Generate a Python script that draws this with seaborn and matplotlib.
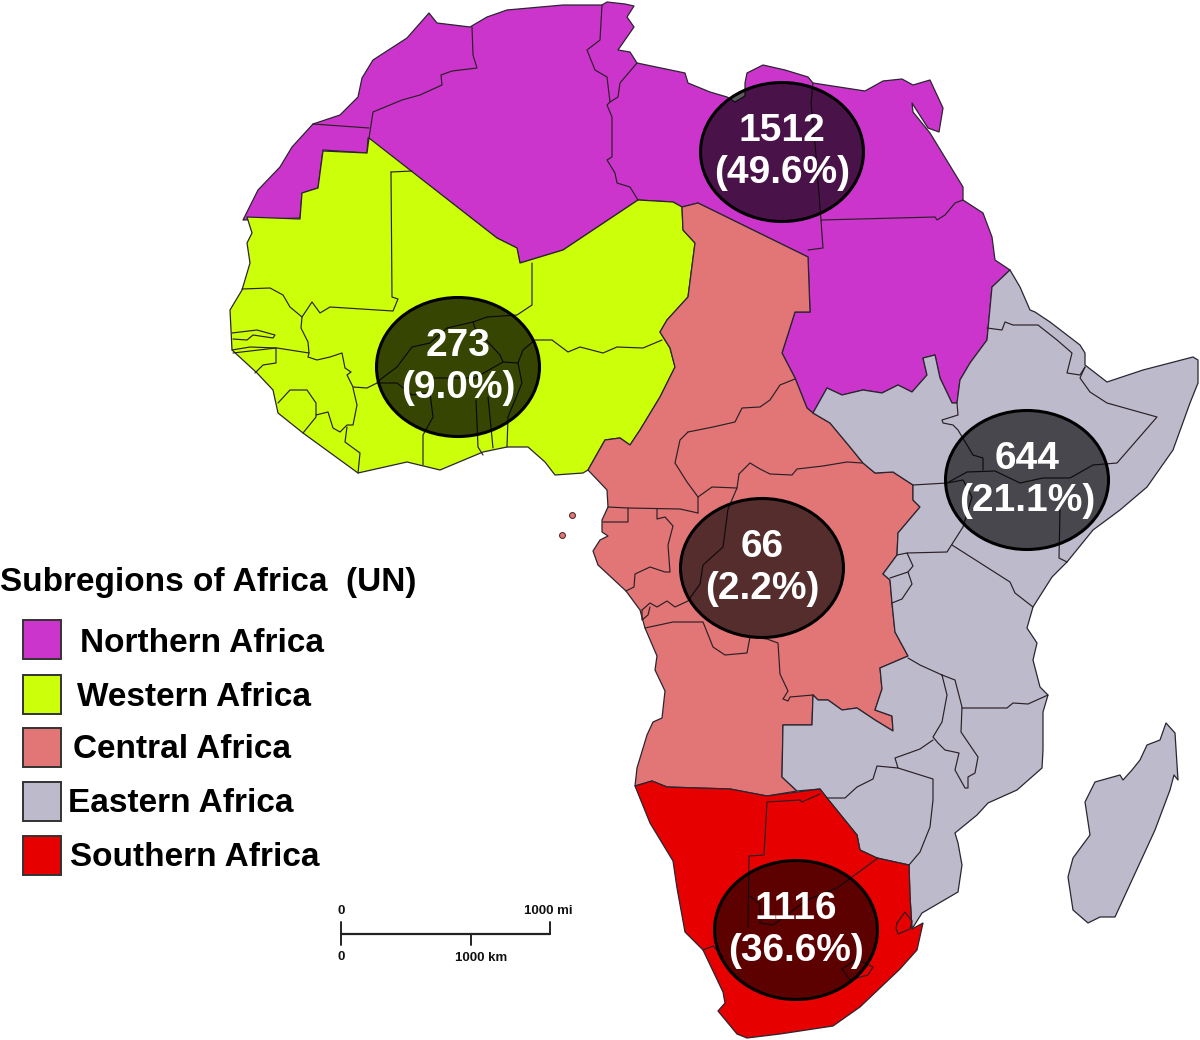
import matplotlib
matplotlib.use("Agg")
import matplotlib.pyplot as plt
import seaborn as sns
from matplotlib.patches import Ellipse, Rectangle

# outlines, in image pixels
northern = [(243,220),(258,190),(280,167),(292,147),(313,124),(340,115),(358,97),(362,78),(373,60),(407,38),(429,13),(437,23),(470,27),(487,17),(507,10),(563,5),(602,5),(607,2),(625,4),(634,6),(627,17),(634,27),(618,50),(630,52),(637,63),(685,73),(688,83),(710,92),(727,97),(735,102),(745,96),(745,83),(747,73),(763,65),(785,70),(808,77),(813,83),(865,91),(883,81),(902,79),(913,85),(930,80),(943,108),(939,132),(928,128),(912,103),(913,112),(930,133),(963,187),(963,200),(983,213),(992,237),(995,260),(1010,270),(992,287),(987,340),(970,363),(960,380),(957,403),(952,403),(940,378),(935,355),(923,358),(927,375),(912,392),(898,385),(882,393),(863,390),(842,395),(827,388),(813,413),(807,408),(795,378),(782,353),(795,312),(810,312),(808,257),(698,203),(682,207),(673,202),(638,200),(563,250),(520,263),(517,248),(497,238),(368,138),(367,153),(323,150),(318,188),(302,193),(300,218)]
western = [(247,217),(300,219),(302,193),(318,188),(323,151),(367,153),(369,138),(497,238),(517,248),(520,263),(563,250),(638,200),(673,202),(682,207),(683,230),(695,243),(688,297),(667,320),(660,332),(670,348),(675,367),(660,397),(640,430),(630,445),(620,438),(605,440),(588,470),(583,473),(555,475),(545,462),(528,447),(507,447),(483,452),(440,470),(407,462),(358,473),(303,433),(278,413),(273,390),(257,373),(232,350),(230,310),(242,290),(250,263),(247,243),(252,233)]
central = [(682,207),(698,203),(808,257),(810,312),(795,312),(782,353),(795,378),(807,408),(813,413),(830,423),(850,447),(863,463),(875,473),(893,472),(913,485),(913,500),(920,507),(898,533),(897,555),(883,574),(890,580),(892,603),(895,632),(908,656),(880,668),(882,689),(875,710),(892,716),(893,731),(875,720),(857,708),(842,710),(828,700),(818,700),(813,695),(812,725),(783,725),(782,777),(797,791),(767,796),(730,789),(667,787),(652,781),(635,786),(637,768),(647,735),(653,722),(662,718),(665,691),(655,670),(657,656),(645,628),(640,610),(626,591),(598,565),(593,551),(600,540),(608,536),(602,532),(602,520),(608,507),(607,490),(588,470),(605,440),(620,438),(630,445),(640,430),(660,397),(675,367),(670,348),(660,332),(667,320),(688,297),(695,243),(683,230)]
eastern = [(813,413),(827,388),(842,395),(863,390),(882,393),(898,385),(912,392),(927,375),(923,358),(935,355),(940,378),(952,403),(957,403),(960,380),(970,363),(987,340),(992,287),(1010,270),(1020,287),(1030,310),(1035,312),(1050,322),(1080,345),(1085,353),(1085,365),(1107,382),(1143,370),(1193,357),(1198,360),(1198,383),(1190,403),(1173,450),(1147,487),(1120,510),(1093,530),(1067,562),(1052,577),(1033,607),(1027,628),(1037,643),(1033,660),(1040,687),(1048,695),(1043,712),(1043,750),(1042,768),(1017,790),(988,803),(977,815),(955,833),(958,843),(962,865),(958,892),(922,913),(912,929),(910,896),(909,865),(877,858),(860,850),(857,835),(827,798),(820,789),(797,791),(782,777),(783,725),(812,725),(813,695),(818,700),(828,700),(842,710),(857,708),(875,720),(893,731),(892,716),(875,710),(882,689),(880,668),(908,656),(895,632),(892,603),(890,580),(883,574),(897,555),(898,533),(920,507),(913,500),(913,485),(893,472),(875,473),(863,463),(850,447),(830,423)]
southern = [(635,786),(652,781),(667,787),(730,789),(767,796),(820,789),(827,798),(857,835),(860,850),(877,858),(909,865),(910,896),(912,929),(923,923),(917,950),(900,969),(860,1007),(833,1026),(780,1034),(747,1038),(737,1034),(718,1011),(725,1003),(723,992),(703,950),(685,932),(677,888),(673,861),(650,823)]
madagascar = [(1166,723),(1175,733),(1178,780),(1174,775),(1170,790),(1155,830),(1115,917),(1100,917),(1088,923),(1073,910),(1068,877),(1073,858),(1090,835),(1085,802),(1095,782),(1120,775),(1123,780),(1132,770),(1140,760),(1147,745),(1160,740)]

borders = [
    [(313,124),(369,128)],
    [(472,27),(473,55),(477,68),(452,71),(441,75),(442,85),(420,95),(402,100),(373,112),(369,138)],
    [(602,5),(600,40),(587,50),(595,70),(607,77),(610,102),(618,97),(620,83),(637,63)],
    [(610,102),(607,105),(612,117),(612,157),(607,160),(615,173),(617,183),(630,187),(638,200)],
    [(391,172),(412,171)],
    [(391,172),(392,297),(398,299),(393,311),(330,307),(320,313),(312,302),(302,317),(290,307),(283,295),(270,288),(242,289)],
    [(302,317),(301,328),(308,342),(309,353),(277,348),(250,347),(232,350)],
    [(232,333),(257,330),(275,335),(273,338),(253,335),(247,340),(233,339)],
    [(233,353),(276,348),(276,363),(263,365),(255,373)],
    [(309,353),(308,357),(317,360),(330,357),(342,353),(345,368),(351,372),(347,375),(353,387)],
    [(278,403),(290,390),(307,390),(316,403),(316,417),(303,433)],
    [(316,415),(328,412),(333,428),(340,432),(347,425),(353,425),(357,405),(353,388)],
    [(347,427),(345,442),(360,453),(358,473)],
    [(353,387),(367,388),(377,383),(397,383),(412,395),(430,393),(433,417),(423,435),(423,465)],
    [(377,382),(397,367),(412,347),(430,343),(447,328),(473,322),(487,317),(517,315),(532,305),(532,263)],
    [(473,322),(475,328),(500,355),(503,362),(518,363),(523,350),(535,340),(552,340),(568,352),(580,347),(603,353),(617,347),(643,348),(662,340)],
    [(432,378),(475,378),(503,362)],
    [(476,400),(478,447),(483,455)],
    [(488,397),(493,448)],
    [(518,363),(522,383),(508,417),(507,447)],
    [(688,432),(713,427),(735,422),(742,408),(760,407),(770,400),(780,385),(795,379)],
    [(688,432),(680,440),(675,463),(687,482),(698,497),(698,513)],
    [(698,497),(712,487),(737,488)],
    [(739,474),(737,488),(728,509),(723,547),(703,565),(700,584),(688,601),(675,607),(667,601),(657,607),(650,603),(642,610)],
    [(739,474),(750,463),(760,469),(770,474),(792,475),(797,469),(823,466),(847,462),(862,463)],
    [(608,507),(628,508),(628,522),(603,522)],
    [(628,508),(680,509),(698,513)],
    [(657,509),(657,519),(665,517),(673,526),(668,545),(670,572),(665,572),(650,567),(635,574),(634,587),(626,591)],
    [(642,610),(642,620),(648,615),(650,607)],
    [(645,628),(673,622),(703,622),(713,647),(725,655),(747,653),(750,637),(767,639),(778,643),(780,674),(788,691),(783,699),(788,701),(790,697),(813,695)],
    [(820,794),(802,802),(800,800),(767,802),(764,855),(749,856),(748,927)],
    [(750,896),(760,904),(760,923),(773,925),(807,900),(837,888),(878,858)],
    [(842,969),(857,959),(873,967),(868,975),(850,980),(842,969)],
    [(897,923),(905,912),(912,921),(910,929),(898,934),(896,928),(897,923)],
    [(703,950),(713,946),(723,957)],
    [(897,555),(907,553),(947,552),(963,527),(972,497),(963,480),(947,483),(913,485)],
    [(907,553),(913,566),(908,572),(890,578)],
    [(908,572),(912,584),(902,599),(892,603)],
    [(952,545),(1010,582),(1015,593),(1033,607)],
    [(947,483),(967,472),(995,471),(1020,483),(1043,478),(1070,478),(1093,465),(1117,463),(1157,417),(1107,403),(1090,392),(1080,378),(1085,367)],
    [(957,403),(958,415),(942,420),(943,423),(953,425),(958,430),(973,455),(983,458),(983,470)],
    [(987,328),(1002,330),(1005,322),(1013,325),(1038,325),(1057,340),(1072,353),(1067,373),(1080,375),(1085,367)],
    [(1060,510),(1059,558),(1067,562)],
    [(908,658),(920,665),(942,675),(955,680),(962,707),(961,732),(978,757),(975,773),(968,777),(968,788),(965,788),(955,770),(959,753),(945,750),(938,743),(933,737),(942,722),(947,695),(942,675)],
    [(962,708),(983,708),(1007,708),(1013,703),(1028,704),(1048,695)],
    [(933,740),(920,749),(895,758),(898,768),(877,766),(873,779),(857,787),(845,798),(827,798)],
    [(898,768),(933,779),(933,800),(930,827),(920,852),(909,865)],
    [(813,83),(811,103),(815,143),(821,220),(823,248),(808,250)],
    [(821,220),(935,217),(937,220),(945,215),(955,203),(963,200)],
]

region_names = ["Northern Africa", "Western Africa", "Central Africa", "Eastern Africa", "Southern Africa"]
region_colors = ["#cb35cc", "#ccff0a", "#e27676", "#bdbacc", "#e60000"]
region_shapes = [[northern], [western], [central], [eastern, madagascar], [southern]]

# bubbles, same order as the labels below
bubble_counts = ["1512", "273", "66", "644", "1116"]
bubble_shares = ["(49.6%)", "(9.0%)", "(2.2%)", "(21.1%)", "(36.6%)"]
bubble_x = [782, 458, 762, 1027, 796]
bubble_y = [152, 367, 568, 480, 930]
bubble_alpha = [0.64, 0.73, 0.62, 0.62, 0.60]

# two small islands off the gulf
island_x = [572, 562]
island_y = [515, 535]

legend_x = [80, 77, 73, 68, 70]
legend_y = [643, 698, 749, 804, 858]
swatch_y = [620, 675, 728, 782, 836]

sns.set_theme(style="white")
plt.rcParams["font.family"] = ["Liberation Sans", "DejaVu Sans"]
plt.rcParams["font.weight"] = "bold"

fig, ax = plt.subplots(figsize = (12, 10.4), dpi = 100)
ax.set_position([0, 0, 1, 1])
ax.set_xlim(0, 1200)
ax.set_ylim(1040, 0)
ax.axis("off")

for shapes, color in zip(region_shapes, region_colors):
    for shape in shapes:
        xs, ys = zip(*shape)
        ax.fill(xs, ys, facecolor = color, edgecolor = "#2a2530", linewidth = 0.9, joinstyle = "round", zorder = 2)

for line in borders:
    xs, ys = zip(*line)
    ax.plot(xs, ys, color = "#2a2025", linewidth = 0.85, zorder = 3)

sns.scatterplot(x = island_x, y = island_y, s = 18, color = region_colors[2], edgecolor = "#402020", linewidth = 0.7, ax = ax, zorder = 3, legend = False)

for x, y, count, share, alpha in zip(bubble_x, bubble_y, bubble_counts, bubble_shares, bubble_alpha):
    ax.add_patch(Ellipse((x, y), 163, 139, facecolor = (0, 0, 0, alpha), edgecolor = "black", linewidth = 2.2, zorder = 4))
    ax.text(x, y - 21, count, color = "white", fontsize = 28, ha = "center", va = "center", zorder = 5)
    ax.text(x, y + 21, share, color = "white", fontsize = 28, ha = "center", va = "center", zorder = 5)

ax.text(0, 583, "Subregions of Africa  (UN)", color = "black", fontsize = 24, ha = "left", va = "center")
for name, color, tx, ty, sy in zip(region_names, region_colors, legend_x, legend_y, swatch_y):
    ax.add_patch(Rectangle((23, sy), 38, 39, facecolor = color, edgecolor = "#333333", linewidth = 1.4))
    ax.text(tx, ty, name, color = "black", fontsize = 24, ha = "left", va = "center")

# scale bar
ax.plot([341, 550], [934, 934], color = "#222222", linewidth = 1.6)
ax.plot([341, 341], [922, 945], color = "#222222", linewidth = 1.4)
ax.plot([550, 550], [922, 934], color = "#222222", linewidth = 1.4)
ax.plot([471, 471], [934, 945], color = "#222222", linewidth = 1.4)
ax.text(341, 911, "0", fontsize = 9.5, ha = "center", va = "center", color = "#111111")
ax.text(548, 911, "1000 mi", fontsize = 9.5, ha = "center", va = "center", color = "#111111")
ax.text(341, 957, "0", fontsize = 9.5, ha = "center", va = "center", color = "#111111")
ax.text(481, 958, "1000 km", fontsize = 9.5, ha = "center", va = "center", color = "#111111")

fig.savefig("out.png", dpi = 100, facecolor = "white")
